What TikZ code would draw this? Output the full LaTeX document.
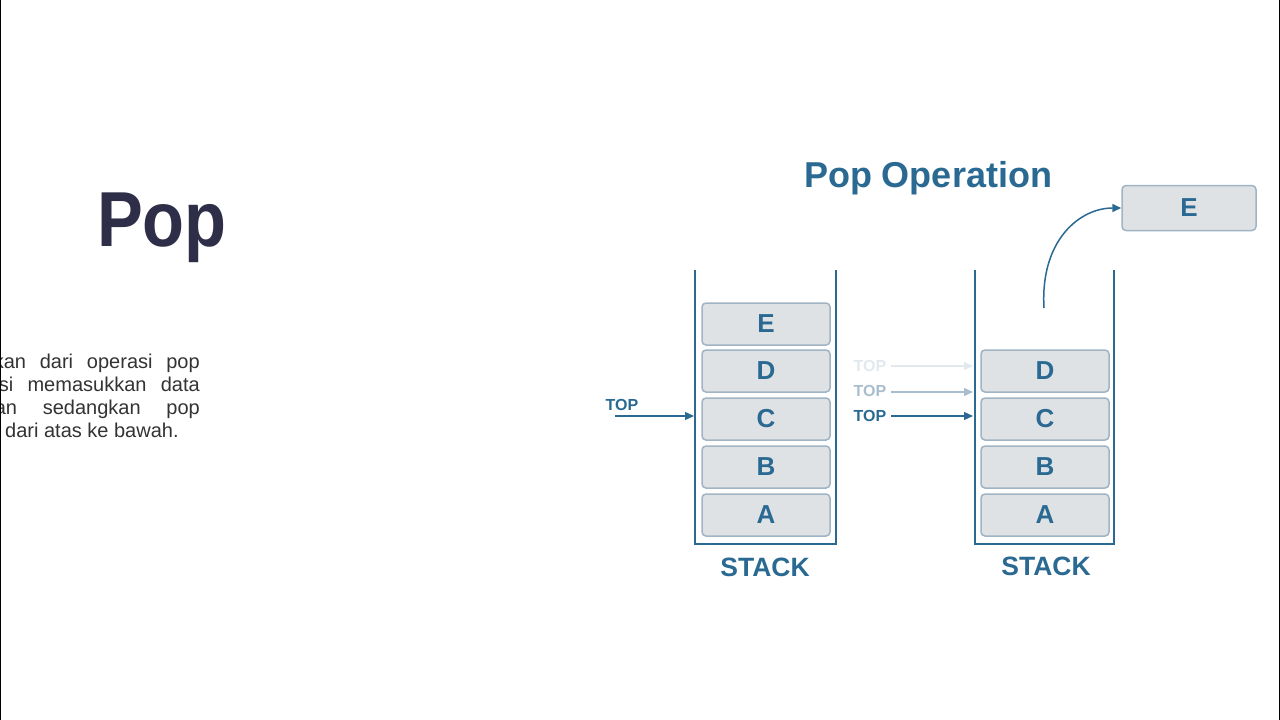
\documentclass[tikz,border=0pt]{standalone}
\usepackage{fontspec}
\setmainfont{Liberation Sans}
\usetikzlibrary{arrows.meta}
\definecolor{popnavy}{RGB}{47,46,72}
\definecolor{popblue}{RGB}{42,106,146}
\definecolor{boxfill}{RGB}{223,226,229}
\definecolor{boxline}{RGB}{160,180,195}
\definecolor{paratext}{RGB}{51,51,51}
\definecolor{fadeA}{RGB}{168,190,206}
\definecolor{fadeB}{RGB}{226,233,238}
\tikzset{
  cell/.style={draw=boxline, line width=1.5pt, fill=boxfill, rounded corners=4pt,
    minimum width=128pt, minimum height=42pt, inner sep=0pt,
    text=popblue, font=\fontsize{26}{26}\selectfont\bfseries},
  wall/.style={draw=popblue, line width=2.5pt},
  stacklabel/.style={text=popblue, font=\fontsize{26.5}{26.5}\selectfont\bfseries, inner sep=0pt},
  toplabel/.style={font=\fontsize{16}{16}\selectfont\bfseries, inner sep=0pt},
  toparrow/.style={line width=1.2pt, -{Triangle[length=9pt,width=8pt]}},
  paraline/.style={text=paratext, font=\fontsize{20}{20}\selectfont, inner sep=0pt, anchor=base east},
}
\begin{document}
\begin{tikzpicture}[x=1pt,y=-1pt]
\useasboundingbox (0,0) rectangle (1280,720);
\fill[white] (0,0) rectangle (1280,720);

% title
\node[anchor=base west, inner sep=0pt, text=popnavy, font=\fontsize{78}{78}\selectfont\bfseries] (title) at (97,246) {\scalebox{0.88}[1]{Pop}};

% clipped paragraph
\begin{scope}
\clip (0,0) rectangle (640,720);
\node[paraline] (p1) at (200,368) {\hbox to 206pt{kan\hfill dari\hfill operasi\hfill pop}};
\node[paraline] (p2) at (200,391) {\hbox to 201pt{si\hfill memasukkan\hfill data}};
\node[paraline] (p3) at (200,414) {\hbox to 205pt{an\hfill sedangkan\hfill pop}};
\node[anchor=base west, text=paratext, font=\fontsize{20}{20}\selectfont, inner sep=0pt] (p4) at (5,437) {dari atas ke bawah.};
\end{scope}

% diagram title
\node[text=popblue, font=\fontsize{36}{36}\selectfont\bfseries, inner sep=0pt] (optitle) at (928,178) {Pop Operation};

% stack 1
\draw[wall] (695,270) -- (695,544) -- (836,544) -- (836,270);
\node[cell] (s1e) at (766,324) {E};
\node[cell] (s1d) at (766,371) {D};
\node[cell] (s1c) at (766,419) {C};
\node[cell] (s1b) at (766,467) {B};
\node[cell] (s1a) at (766,515) {A};
\node[stacklabel] (st1) at (765,567) {STACK};

\node[toplabel, text=popblue] (top1) at (622,405) {TOP};
\coordinate (t1s) at (615,416);
\coordinate (t1e) at (694,416);
\draw[toparrow, popblue] (t1s) -- (t1e);

% stack 2
\draw[wall] (975,270) -- (975,544) -- (1114,544) -- (1114,270);
\node[cell] (s2d) at (1045,371) {D};
\node[cell] (s2c) at (1045,419) {C};
\node[cell] (s2b) at (1045,467) {B};
\node[cell] (s2a) at (1045,515) {A};
\node[stacklabel] (st2) at (1046,566) {STACK};

\node[toplabel, text=fadeB] (top2a) at (870,366) {TOP};
\coordinate (t2as) at (891,366);
\coordinate (t2ae) at (973,366);
\draw[toparrow, fadeB] (t2as) -- (t2ae);

\node[toplabel, text=fadeA] (top2b) at (870,391) {TOP};
\coordinate (t2bs) at (891,392);
\coordinate (t2be) at (973,392);
\draw[toparrow, fadeA] (t2bs) -- (t2be);

\node[toplabel, text=popblue] (top2c) at (870,416) {TOP};
\coordinate (t2cs) at (891,416);
\coordinate (t2ce) at (973,416);
\draw[toparrow, popblue] (t2cs) -- (t2ce);

% popped element
\node[cell, minimum width=134pt, minimum height=45pt] (pe) at (1189,208) {E};
\coordinate (cs) at (1044,308);
\draw[popblue, line width=1.5pt, -{Triangle[length=9pt,width=8pt]}] (cs) .. controls (1040,240) and (1080,208) .. (pe.west);

% frame edges
\draw[black, line width=2pt] (0,0) -- (0,720);
\draw[black, line width=2pt] (1280,0) -- (1280,720);
\end{tikzpicture}
\end{document}
